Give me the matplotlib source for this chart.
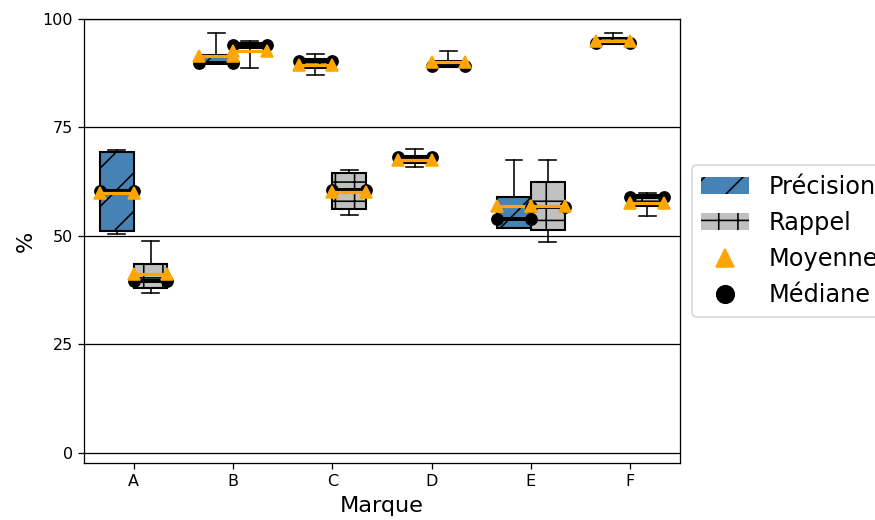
import matplotlib
matplotlib.use("Agg")
import matplotlib.pyplot as plt
from matplotlib.patches import Patch
from matplotlib.lines import Line2D

# Données (en %)
marques = ['A', 'B', 'C', 'D', 'E', 'F']

# Précision : moustache basse, Q1, médiane, Q3, moustache haute, moyenne
prec_bas = [50.5, 89.8, 87.1, 66.0, 51.9, 94.2]
prec_q1 = [51.2, 89.8, 88.6, 66.8, 51.9, 94.3]
prec_med = [60.4, 89.8, 90.2, 68.2, 53.9, 94.5]
prec_q3 = [69.4, 91.6, 90.7, 68.4, 58.9, 95.5]
prec_haut = [69.7, 96.8, 91.9, 70.0, 67.5, 96.7]
prec_moy = [60.0, 91.5, 89.5, 67.6, 56.8, 95.0]

# Rappel
rap_bas = [36.9, 88.8, 54.8, 89.0, 48.5, 54.5]
rap_q1 = [38.1, 93.2, 56.2, 89.0, 51.4, 56.8]
rap_med = [39.6, 94.0, 60.6, 89.1, 56.6, 59.0]
rap_q3 = [43.6, 94.4, 64.6, 90.4, 62.4, 59.4]
rap_haut = [48.9, 94.9, 65.2, 92.6, 67.5, 59.8]
rap_moy = [41.3, 92.6, 60.2, 90.0, 57.0, 57.5]


def stats(bas, q1, med, q3, haut, moy):
    return [dict(whislo=b, q1=a, med=m, q3=c, whishi=h, mean=mo, fliers=[])
            for b, a, m, c, h, mo in zip(bas, q1, med, q3, haut, moy)]


fig = plt.figure(figsize=(875 / 115, 520 / 115), dpi=115)
ax = fig.add_axes([0.096, 0.1096, 0.681, 0.854])

x = list(range(len(marques)))
decalage = 0.17
largeur = 0.34

commun = dict(widths=largeur, patch_artist=True, showmeans=True, meanline=True,
              medianprops=dict(color='black', linewidth=2.5, marker='o', markersize=7),
              meanprops=dict(color='orange', linestyle='-', linewidth=2, marker='^',
                             markersize=8, markerfacecolor='orange', markeredgecolor='orange'),
              whiskerprops=dict(color='black', linewidth=1),
              capprops=dict(color='black', linewidth=1))

bp1 = ax.bxp(stats(prec_bas, prec_q1, prec_med, prec_q3, prec_haut, prec_moy),
             positions=[i - decalage for i in x],
             boxprops=dict(facecolor='steelblue', edgecolor='black', linewidth=1.3, hatch='/'),
             **commun)
bp2 = ax.bxp(stats(rap_bas, rap_q1, rap_med, rap_q3, rap_haut, rap_moy),
             positions=[i + decalage for i in x],
             boxprops=dict(facecolor='silver', edgecolor='black', linewidth=1.3, hatch='+'),
             **commun)

ax.set_xticks(x)
ax.set_xticklabels(marques)
ax.set_xlim(-0.5, 5.5)
ax.set_ylim(-2.3, 100)
ax.set_yticks([0, 25, 50, 75, 100])
ax.yaxis.grid(True, color='black', linewidth=0.8)
ax.set_axisbelow(True)
ax.set_xlabel('Marque', fontsize=14)
ax.set_ylabel('%', fontsize=14)

# Légende construite à la main (patchs hachurés + marqueurs)
handles = [Patch(facecolor='steelblue', edgecolor='black', hatch='/', linewidth=0),
           Patch(facecolor='silver', edgecolor='black', hatch='+', linewidth=0),
           Line2D([], [], linestyle='', marker='^', color='orange', markersize=11),
           Line2D([], [], linestyle='', marker='o', color='black', markersize=11)]
ax.legend(handles, ['Précision', 'Rappel', 'Moyenne', 'Médiane'],
          loc='center left', bbox_to_anchor=(1, 0.5), fontsize=15)

fig.savefig('out.png', dpi=115)
